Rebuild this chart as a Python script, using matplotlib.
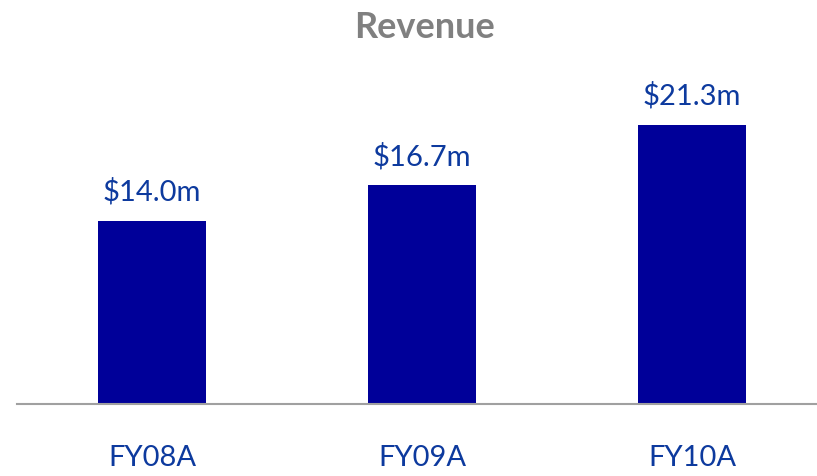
import numpy as np
import matplotlib
matplotlib.use("Agg")
import matplotlib.pyplot as plt

# data
years = ["FY08A", "FY09A", "FY10A"]
revenue = [14.0, 16.7, 21.3]
labels = ["$14.0m", "$16.7m", "$21.3m"]

bar_color = "#000099"
text_color = "#0D3A9E"
plt.rcParams['font.family'] = ['Lato', 'DejaVu Sans']

W, H = 817, 477
fig = plt.figure(figsize=(W/100, H/100), dpi=100)
# axes: x from 17 px to 817 px, baseline at 405 px from top
ax = fig.add_axes([17/W, (H-405)/H, 800/W, 345/H])

x = np.arange(len(years))
ax.bar(x, revenue, width=0.4, color=bar_color)
ax.set_xlim(-0.5, 2.463)
ax.set_ylim(0, 345/13.1)

for xi, v, lab in zip(x, revenue, labels):
    ax.annotate(lab, (xi, v), xytext=(0, 16), textcoords='offset pixels',
                ha='center', va='bottom', fontsize=21, color=text_color)

ax.set_xticks(x)
ax.set_xticklabels(years, fontsize=21, color=text_color)
ax.tick_params(axis='x', length=0, pad=29)
ax.set_yticks([])
for s in ['top', 'right', 'left']:
    ax.spines[s].set_visible(False)
ax.spines['bottom'].set_color('#A0A0A0')
ax.spines['bottom'].set_linewidth(1.5)

fig.text(424/W, 1 - 27/H, "Revenue", ha='center', va='center',
         fontsize=26, fontweight='bold', color='#808080')

fig.savefig("out.png", dpi=100)
